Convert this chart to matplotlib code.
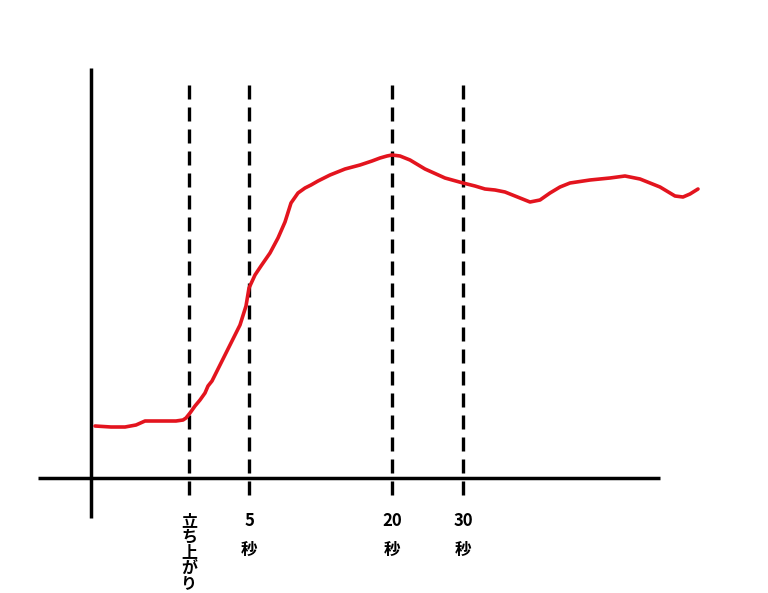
import matplotlib
matplotlib.use("Agg")
import numpy as np
from matplotlib import pyplot as plt

plt.rcParams['font.family'] = ['Noto Sans CJK JP', 'DejaVu Sans']

# curve (time, level)
timeVals = [4, 20, 34, 45, 54, 70, 85, 92, 95, 99, 104, 109, 114, 117, 121,
            129, 139, 149, 155, 158, 164, 170, 179, 187, 194, 200, 207, 214,
            220, 227, 239, 254, 269, 281, 289, 296, 301, 309, 319, 334, 354,
            372, 384, 394, 404, 414, 424, 439, 449, 459, 469, 479, 499, 519,
            534, 549, 569, 584, 592, 599, 607]
levelVals = [52, 51, 51, 53, 57, 57, 57, 58, 60, 65, 72, 78, 85, 92, 97,
             113, 133, 153, 172, 190, 203, 212, 225, 240, 256, 275, 285, 290,
             293, 297, 303, 309, 313, 317, 320, 322, 323, 322, 318, 309, 300,
             295, 292, 289, 288, 286, 282, 276, 278, 285, 291, 295, 298, 300,
             302, 299, 291, 282, 281, 284, 289]

# marker lines
markX = [98, 158, 301, 372]
markLabels = ["立ち上がり", "5", "20", "30"]

fig = plt.figure(figsize=(7.68, 5.93), dpi=100)
ax = fig.add_axes([0, 0, 1, 1])
ax.set_xlim(-91, 677)
ax.set_ylim(-115, 478)
ax.axis('off')

# axes drawn by hand
ax.plot([-53, 569], [0, 0], color='black', lw=2.5, solid_capstyle='butt')
ax.plot([0, 0], [-40, 410], color='black', lw=2.5, solid_capstyle='butt')

for x in markX:
    ax.plot([x, x], [-17, 400], color='black', lw=2.4,
            linestyle=(0, (4.2, 2.4)))

ax.plot(timeVals, levelVals, color='#e3141e', lw=2.6, solid_joinstyle='round',
        solid_capstyle='round')

# labels under the axis, first one stacked vertically
for i, ch in enumerate(markLabels[0]):
    ax.text(markX[0], -43 - i * 15.6, ch, ha='center', va='center',
            fontsize=11.5, fontweight='bold')
for x, lab in zip(markX[1:], markLabels[1:]):
    ax.text(x, -43, lab, ha='center', va='center', fontsize=12,
            fontweight='bold')
    ax.text(x, -72, "秒", ha='center', va='center', fontsize=12,
            fontweight='bold')

fig.savefig("out.png", dpi=100, facecolor='white')
